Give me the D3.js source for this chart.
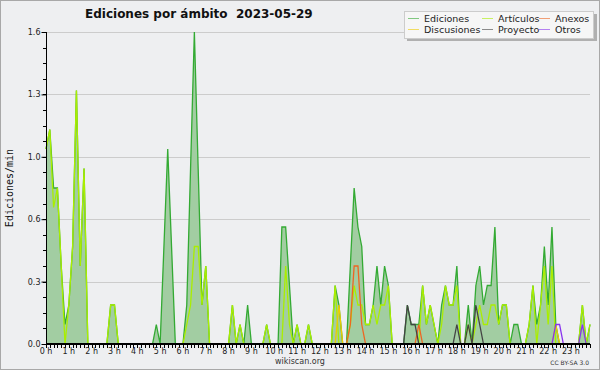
<!DOCTYPE html>
<html>
<head>
<meta charset="utf-8">
<script src="https://cdn.jsdelivr.net/npm/d3@7"></script>
<style>
  body { margin: 0; background: #eeeff1; }
  text { font-family: "DejaVu Sans", sans-serif; }
</style>
</head>
<body>
<div id="chart"></div>
<script>
// one value every 10 minutes, 0:00 .. 23:50 (edits per minute)
var ediciones = [
  1.0, 1.1, 0.8, 0.8, 0.4, 0.1,  0.2, 0.5, 1.3, 0.4, 0.9, 0,
  0, 0, 0, 0, 0, 0.2,            0.2, 0, 0, 0, 0, 0,
  0, 0, 0, 0, 0, 0.1,            0, 0.5, 1.0, 0.5, 0, 0,
  0, 0.2, 0.9, 1.6, 0.9, 0.2,    0.4, 0, 0, 0, 0, 0,
  0, 0.2, 0, 0.1, 0, 0.2,        0, 0, 0, 0, 0.1, 0,
  0, 0, 0.6, 0.6, 0.3, 0,        0.1, 0, 0, 0.1, 0, 0,
  0, 0, 0, 0, 0.3, 0.2,          0, 0, 0.4, 0.8, 0.6, 0.5,
  0.1, 0.1, 0.2, 0.4, 0.2, 0.4,  0.3, 0, 0, 0, 0, 0.2,
  0.1, 0.1, 0.1, 0.3, 0.1, 0.2,  0.1, 0, 0.2, 0.3, 0.2, 0.2,
  0.4, 0, 0, 0.2, 0, 0.3,        0.4, 0.2, 0.3, 0.3, 0.6, 0.1,
  0.2, 0.2, 0, 0.1, 0.1, 0,      0, 0.1, 0.3, 0.1, 0.2, 0.5,
  0.2, 0.6, 0.1, 0, 0, 0,        0, 0, 0, 0.2, 0, 0.1
];
var articulos = [
  1.0, 1.1, 0.7, 0.8, 0.4, 0,    0.2, 0.5, 1.3, 0.4, 0.9, 0,
  0, 0, 0, 0, 0, 0.2,            0.2, 0, 0, 0, 0, 0,
  0, 0, 0, 0, 0, 0,              0, 0, 0, 0, 0, 0,
  0, 0.1, 0.2, 0.5, 0.5, 0.2,    0.4, 0, 0, 0, 0, 0,
  0, 0.2, 0, 0.1, 0, 0,          0, 0, 0, 0, 0.1, 0,
  0, 0, 0, 0.4, 0.1, 0,          0.1, 0, 0, 0.1, 0, 0,
  0, 0, 0, 0, 0.3, 0,            0, 0, 0.1, 0.3, 0.2, 0.2,
  0.1, 0.1, 0.2, 0.1, 0.2, 0.2,  0.3, 0, 0, 0, 0, 0,
  0, 0, 0, 0.3, 0.1, 0.2,        0.1, 0, 0.1, 0.3, 0.2, 0.2,
  0.3, 0, 0, 0.1, 0, 0.1,        0.2, 0.1, 0.1, 0.2, 0.2, 0.1,
  0.2, 0.2, 0, 0, 0, 0,          0, 0.1, 0.3, 0, 0.2, 0.4,
  0.1, 0.4, 0, 0, 0, 0,          0, 0, 0, 0.2, 0, 0.1
];
var discusiones = [
  0,0,0,0,0,0, 0,0,0,0,0,0,  0,0,0,0,0,0, 0,0,0,0,0,0,
  0,0,0,0,0,0, 0,0,0,0,0,0,  0,0,0,0,0,0, 0,0,0,0,0,0,
  0,0,0,0,0,0, 0,0,0,0,0,0,  0,0,0,0,0,0, 0,0,0,0,0,0,
  0,0,0,0,0,0.2, 0,0,0,0,0,0, 0,0,0,0,0,0, 0,0,0,0,0,0,
  0,0,0,0,0,0, 0,0,0,0,0,0,  0,0,0,0,0,0, 0,0,0,0,0,0,
  0,0,0,0,0,0, 0,0,0,0,0,0,  0,0,0.1,0,0,0, 0,0,0,0,0,0
];
var anexos = [
  0,0,0,0,0,0, 0,0,0,0,0,0,  0,0,0,0,0,0, 0,0,0,0,0,0,
  0,0,0,0,0,0, 0,0,0,0,0,0,  0,0,0,0,0,0, 0,0,0,0,0,0,
  0,0,0,0,0,0, 0,0,0,0,0,0,  0,0,0,0,0,0, 0,0,0,0,0,0,
  0,0,0,0,0,0, 0,0,0.1,0.4,0.4,0.1, 0,0,0,0,0,0, 0,0,0,0,0,0,
  0,0,0.1,0,0,0, 0,0,0,0,0,0, 0,0,0,0,0,0, 0,0,0,0,0,0,
  0,0,0,0,0,0, 0,0,0,0,0,0,  0,0,0,0,0,0, 0,0,0,0,0,0
];
var proyecto = [
  0,0,0,0,0,0, 0,0,0,0,0,0,  0,0,0,0,0,0, 0,0,0,0,0,0,
  0,0,0,0,0,0, 0,0,0,0,0,0,  0,0,0,0,0,0, 0,0,0,0,0,0,
  0,0,0,0,0,0, 0,0,0,0,0,0,  0,0,0,0,0,0, 0,0,0,0,0,0,
  0,0,0,0,0,0, 0,0,0,0,0,0,  0,0,0,0,0,0, 0,0,0,0,0,0.2,
  0.1,0.1,0,0,0,0, 0,0,0,0,0,0, 0.1,0,0,0.1,0,0.2, 0.1,0,0,0,0,0,
  0,0,0,0,0,0, 0,0,0,0,0,0,  0,0,0,0,0,0, 0,0,0,0,0,0
];
var otros = [
  0,0,0,0,0,0, 0,0,0,0,0,0,  0,0,0,0,0,0, 0,0,0,0,0,0,
  0,0,0,0,0,0, 0,0,0,0,0,0,  0,0,0,0,0,0, 0,0,0,0,0,0,
  0,0,0,0,0,0, 0,0,0,0,0,0,  0,0,0,0,0,0, 0,0,0,0,0,0,
  0,0,0,0,0,0, 0,0,0,0,0,0,  0,0,0,0,0,0, 0,0,0,0,0,0,
  0,0,0,0,0,0, 0,0,0,0,0,0,  0,0,0,0,0,0, 0,0,0,0,0,0,
  0,0,0,0,0,0, 0,0,0,0,0,0,  0,0,0.1,0.1,0,0, 0,0,0,0.1,0,0
];
var hourLabels = ["0 h","1 h","2 h","3 h","4 h","5 h","6 h","7 h","8 h","9 h","10 h","11 h",
                  "12 h","13 h","14 h","15 h","16 h","17 h","18 h","19 h","20 h","21 h","22 h","23 h"];
var yTicks = [0, 0.32, 0.64, 0.96, 1.28, 1.6];

var W = 600, H = 370;

var svg = d3.select("#chart").append("svg")
    .attr("width", W)
    .attr("height", H);

// background + frame
svg.append("rect")
    .attr("x", 0.5).attr("y", 0.5)
    .attr("width", W - 1).attr("height", H - 1)
    .style("fill", "#eeeff1")
    .style("stroke", "#a8a8a8");

var x = d3.scaleLinear().domain([0, 143]).range([46, 590]);
var y = d3.scaleLinear().domain([0, 1.6]).range([344, 32]);

// grid lines
svg.append("g").selectAll("line")
    .data(yTicks.slice(1))
    .enter().append("line")
    .attr("x1", 46).attr("x2", 590)
    .attr("y1", d => Math.round(y(d)) + 0.5)
    .attr("y2", d => Math.round(y(d)) + 0.5)
    .style("stroke", "#cccccc");

// area of all edits
var area = d3.area()
    .x((d, i) => x(i))
    .y0(y(0))
    .y1(d => y(d));

svg.append("path")
    .datum(ediciones)
    .attr("d", area)
    .style("fill", "#a2cda2");

var line = d3.line()
    .x((d, i) => x(i))
    .y(d => y(d));

var series = [
  {name: "Ediciones", values: ediciones, color: "#33aa33"},
  {name: "Artículos", values: articulos, color: "#aaee00"},
  {name: "Discusiones", values: discusiones, color: "#eecc00"},
  {name: "Anexos", values: anexos, color: "#ee6622"},
  {name: "Proyecto", values: proyecto, color: "#444444"},
  {name: "Otros", values: otros, color: "#8833ee"}
];

series.forEach(function(s){
    svg.append("path")
        .datum(s.values)
        .attr("d", line)
        .style("fill", "none")
        .style("stroke", s.color)
        .style("stroke-width", 1.3);
});

// y axis
var yAxis = d3.axisLeft(y)
    .tickValues(yTicks)
    .tickFormat(d3.format(".1f"))
    .tickSize(5)
    .tickPadding(1);
var gy = svg.append("g")
    .attr("transform", "translate(46.5,0)")
    .call(yAxis);
gy.select(".domain").attr("d", "M0," + y(1.6) + "V" + y(0));
gy.selectAll("text").style("font-size", "8px").style("fill", "#222");

// y minor ticks
svg.append("g").selectAll("line")
    .data(d3.range(0, 1.61, 0.08))
    .enter().append("line")
    .attr("x1", 43).attr("x2", 46)
    .attr("y1", d => Math.round(y(d)) + 0.5)
    .attr("y2", d => Math.round(y(d)) + 0.5)
    .style("stroke", "#000");

// x axis
var gx = svg.append("g")
    .attr("transform", "translate(0," + y(0) + ")");
gx.append("line")
    .attr("x1", 46).attr("x2", 590)
    .attr("y1", 0).attr("y2", 0)
    .style("stroke", "#000")
    .style("stroke-width", 2);
gx.selectAll(".minor")
    .data(d3.range(0, 144))
    .enter().append("line")
    .attr("x1", d => Math.round(x(d)) + 0.5)
    .attr("x2", d => Math.round(x(d)) + 0.5)
    .attr("y1", 0).attr("y2", 4)
    .style("stroke", "#000");
gx.selectAll("text")
    .data(hourLabels)
    .enter().append("text")
    .attr("x", (d, i) => x(i * 6))
    .attr("y", 10)
    .attr("text-anchor", "middle")
    .style("font-size", "8px")
    .style("fill", "#222")
    .text(d => d);

// title
svg.append("text")
    .attr("x", 85).attr("y", 18)
    .attr("xml:space", "preserve")
    .style("font-size", "12px")
    .style("font-weight", "bold")
    .style("fill", "#111")
    .text("Ediciones por ámbito  2023-05-29");

// y label
svg.append("text")
    .attr("transform", "translate(13,188) rotate(-90)")
    .attr("text-anchor", "middle")
    .style("font-family", "'DejaVu Sans Mono', monospace")
    .style("font-size", "10px")
    .style("fill", "#111")
    .text("Ediciones/min");

// footer
svg.append("text")
    .attr("x", 300).attr("y", 364)
    .attr("text-anchor", "middle")
    .style("font-size", "8px")
    .style("fill", "#333")
    .text("wikiscan.org");
svg.append("text")
    .attr("x", 589).attr("y", 365)
    .attr("text-anchor", "end")
    .style("font-size", "6px")
    .style("fill", "#333")
    .text("CC BY-SA 3.0");

// legend
var lg = svg.append("g");
lg.append("rect")
    .attr("x", 407).attr("y", 14)
    .attr("width", 190).attr("height", 27)
    .style("fill", "#b0b0b0");
lg.append("rect")
    .attr("x", 404.5).attr("y", 11.5)
    .attr("width", 189).attr("height", 27)
    .style("fill", "#f6f6f6")
    .style("stroke", "#cccccc");

var legendPos = [
  [408, 19], [408, 30], [482, 19], [482, 30], [539, 19], [539, 30]
];
var legendOrder = [0, 2, 1, 4, 3, 5];
legendOrder.forEach(function(si, k){
    var s = series[si];
    var p = legendPos[k];
    lg.append("line")
        .attr("x1", p[0]).attr("x2", p[0] + 11)
        .attr("y1", p[1] - 0.5).attr("y2", p[1] - 0.5)
        .style("stroke", s.color)
        .style("stroke-opacity", 0.6);
    lg.append("text")
        .attr("x", p[0] + 16).attr("y", p[1] + 3)
        .style("font-size", "9.5px")
        .style("fill", "#222")
        .text(s.name);
});
</script>
</body>
</html>
